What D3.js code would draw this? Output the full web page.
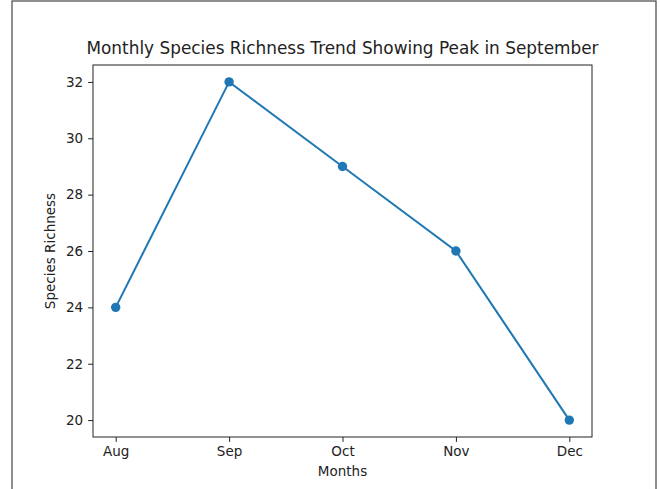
<!DOCTYPE html>
<html>
<head>
<meta charset="utf-8">
<script src="https://cdn.jsdelivr.net/npm/d3@7"></script>
<style>
  body { margin: 0; background: #fff; }
  svg { display: block; font-family: "DejaVu Sans", sans-serif; }
</style>
</head>
<body>
<script>
const months = ["Aug", "Sep", "Oct", "Nov", "Dec"];
const richness = [24, 32, 29, 26, 20];
const yTicks = [20, 22, 24, 26, 28, 30, 32];

const W = 660, H = 489;
const plot = {left: 93, right: 592, top: 65, bottom: 437};

const svg = d3.select("body").append("svg").attr("width", W).attr("height", H);

// frame around the figure
svg.append("rect")
  .attr("x", 12).attr("y", 1).attr("width", 644).attr("height", H + 10)
  .attr("fill", "none").attr("stroke", "#444").attr("stroke-width", 1.2);

const x = d3.scaleLinear().domain([-0.2, 4.2]).range([plot.left, plot.right]);
const y = d3.scaleLinear().domain([19.4, 32.6]).range([plot.bottom, plot.top]);

const xAxis = d3.axisBottom(x).tickValues(d3.range(months.length))
  .tickFormat(i => months[i]).tickSize(4.9).tickPadding(4.9);
const yAxis = d3.axisLeft(y).tickValues(yTicks).tickSize(4.9).tickPadding(4.9);

const gx = svg.append("g").attr("transform", "translate(0," + plot.bottom + ")").call(xAxis);
const gy = svg.append("g").attr("transform", "translate(" + plot.left + ",0)").call(yAxis);
[gx, gy].forEach(g => {
  g.select(".domain").remove();
  g.selectAll("text").attr("font-size", 13.5).attr("fill", "#222").attr("font-family", "DejaVu Sans");
  g.selectAll("line").attr("stroke", "#222");
});

svg.append("rect")
  .attr("x", plot.left).attr("y", plot.top)
  .attr("width", plot.right - plot.left).attr("height", plot.bottom - plot.top)
  .attr("fill", "none").attr("stroke", "#222").attr("stroke-width", 1);

const line = d3.line().x((d, i) => x(i)).y(d => y(d));
svg.append("path").datum(richness)
  .attr("d", line).attr("fill", "none")
  .attr("stroke", "#1f77b4").attr("stroke-width", 2);

svg.selectAll("circle.pt").data(richness).enter().append("circle")
  .attr("class", "pt")
  .attr("cx", (d, i) => x(i)).attr("cy", d => y(d)).attr("r", 4.7)
  .attr("fill", "#1f77b4");

svg.append("text")
  .attr("x", (plot.left + plot.right) / 2).attr("y", 54)
  .attr("text-anchor", "middle").attr("font-size", 16.9).attr("fill", "#222")
  .text("Monthly Species Richness Trend Showing Peak in September");

svg.append("text")
  .attr("x", (plot.left + plot.right) / 2).attr("y", 476)
  .attr("text-anchor", "middle").attr("font-size", 13.5).attr("fill", "#222")
  .text("Months");

svg.append("text")
  .attr("transform", "translate(55," + (plot.top + plot.bottom) / 2 + ") rotate(-90)")
  .attr("text-anchor", "middle").attr("font-size", 13.5).attr("fill", "#222")
  .text("Species Richness");
</script>
</body>
</html>
